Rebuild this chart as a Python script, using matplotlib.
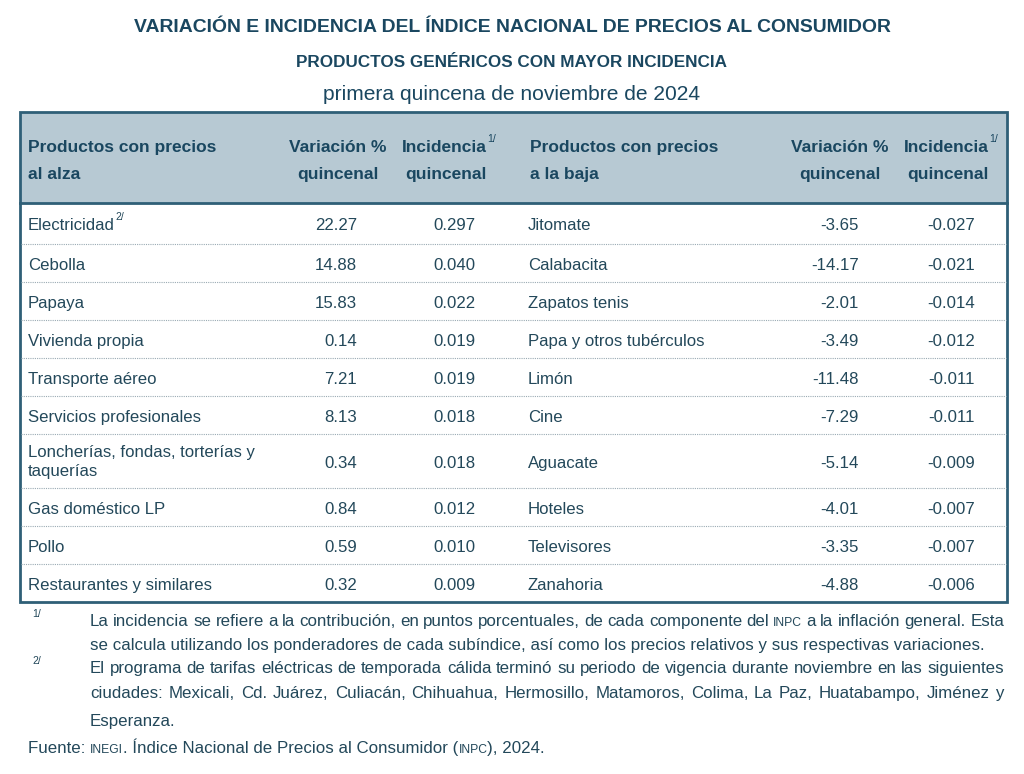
import matplotlib
matplotlib.use("Agg")
import matplotlib.pyplot as plt
from matplotlib.patches import Rectangle

# data
products_up = ["Electricidad", "Cebolla", "Papaya", "Vivienda propia", "Transporte aéreo",
               "Servicios profesionales", "Loncherías, fondas, torterías y\ntaquerías",
               "Gas doméstico LP", "Pollo", "Restaurantes y similares"]
var_up = [22.27, 14.88, 15.83, 0.14, 7.21, 8.13, 0.34, 0.84, 0.59, 0.32]
inc_up = [0.297, 0.040, 0.022, 0.019, 0.019, 0.018, 0.018, 0.012, 0.010, 0.009]

products_down = ["Jitomate", "Calabacita", "Zapatos tenis", "Papa y otros tubérculos", "Limón",
                 "Cine", "Aguacate", "Hoteles", "Televisores", "Zanahoria"]
var_down = [-3.65, -14.17, -2.01, -3.49, -11.48, -7.29, -5.14, -4.01, -3.35, -4.88]
inc_down = [-0.027, -0.021, -0.014, -0.012, -0.011, -0.011, -0.009, -0.007, -0.007, -0.006]

title = "VARIACIÓN E INCIDENCIA DEL ÍNDICE NACIONAL DE PRECIOS AL CONSUMIDOR"
subtitle = "PRODUCTOS GENÉRICOS CON MAYOR INCIDENCIA"
period = "primera quincena de noviembre de 2024"

# (word, small caps?) pairs for the first footnote line
note1_a = [("La", 0), ("incidencia", 0), ("se", 0), ("refiere", 0), ("a", 0), ("la", 0), ("contribución,", 0),
           ("en", 0), ("puntos", 0), ("porcentuales,", 0), ("de", 0), ("cada", 0), ("componente", 0), ("del", 0),
           ("INPC", 1), ("a", 0), ("la", 0), ("inflación", 0), ("general.", 0), ("Esta", 0)]
note1_b = "se calcula utilizando los ponderadores de cada subíndice, así como los precios relativos y sus respectivas variaciones."
note2 = ["El programa de tarifas eléctricas de temporada cálida terminó su periodo de vigencia durante noviembre en las siguientes",
         "ciudades: Mexicali, Cd. Juárez, Culiacán, Chihuahua, Hermosillo, Matamoros, Colima, La Paz, Huatabampo, Jiménez y",
         "Esperanza."]
source = [("Fuente: ", 0), ("INEGI", 1), (". Índice Nacional de Precios al Consumidor (", 0), ("INPC", 1), ("), 2024.", 0)]

plt.rcParams['font.family'] = ["Liberation Sans", "DejaVu Sans"]
dark = "#1a4760"
txt = "#23485a"
border = "#2f5f77"
head_bg = "#b7c9d3"

fig = plt.figure(figsize=(10.24, 7.74), dpi=100)
ax = fig.add_axes([0, 0, 1, 1])
ax.set_xlim(0, 1024)
ax.set_ylim(774, 0)
ax.axis("off")
fig.canvas.draw()
rend = fig.canvas.get_renderer()


def width_px(t):
    return t.get_window_extent(renderer=rend).width


def fit(s, target, weight="normal"):
    # font size that makes s about target pixels wide
    t = ax.text(0, 0, s, fontsize=10, fontweight=weight)
    w = width_px(t)
    t.remove()
    return 10 * target / w


def after(t, s, size, dy=-7, color=txt):
    # small superscript right after a text item
    bb = t.get_window_extent(renderer=rend)
    x1 = ax.transData.inverted().transform((bb.x1, bb.y1))[0]
    y = t.get_position()[1]
    ax.text(x1 + 1, y + dy, s, fontsize=size, color=color, va="center", ha="left")


# titles
ax.text(512, 25, title, fontsize=fit(title, 755, "bold"), fontweight="bold", color=dark,
        ha="center", va="center_baseline")
ax.text(512, 61, subtitle, fontsize=fit(subtitle, 430, "bold"), fontweight="bold", color=dark,
        ha="center", va="center_baseline")
ax.text(512, 93, period, fontsize=fit(period, 380), color=dark, ha="center", va="center_baseline")

# table frame
top, head_bot, bot = 112, 203, 602
left, right = 20, 1007
ax.add_patch(Rectangle((left, top), right - left, head_bot - top, facecolor=head_bg, edgecolor="none"))
ax.add_patch(Rectangle((left, top), right - left, bot - top, facecolor="none", edgecolor=border, lw=2))
ax.plot([left, right], [head_bot, head_bot], color=border, lw=2)

hs = fit("Variación %", 97, "bold")
h1, h2 = 146, 173
kw = dict(fontsize=hs, fontweight="bold", color=dark, va="center_baseline")
ax.text(28, h1, "Productos con precios", **kw)
ax.text(28, h2, "al alza", **kw)
ax.text(530, h1, "Productos con precios", **kw)
ax.text(530, h2, "a la baja", **kw)
for cx_v, cx_i in [(338, 444), (840, 946)]:
    ax.text(cx_v, h1, "Variación %", ha="center", **kw)
    ax.text(cx_v, h2, "quincenal", ha="center", **kw)
    t = ax.text(cx_i, h1, "Incidencia", ha="center", **kw)
    after(t, "1/", 7.5, dy=-7, color=dark)
    ax.text(cx_i + 2, h2, "quincenal", ha="center", **kw)

# body rows
heights = [41, 38, 38, 38, 38, 38, 54, 38, 38, 38]
bs = fit("Servicios profesionales", 173)
bkw = dict(fontsize=bs, color=txt, va="center_baseline")
y0 = head_bot
for i in range(len(products_up)):
    yc = y0 + heights[i] / 2 + 1
    if "\n" in products_up[i]:
        t = ax.text(28, yc, products_up[i], fontsize=bs, color=txt, va="center", linespacing=1.3)
    else:
        t = ax.text(28, yc, products_up[i], **bkw)
    if i == 0:
        after(t, "2/", 7.5, dy=-7)
    ax.text(357, yc, f"{var_up[i]:.2f}", ha="right", **bkw)
    ax.text(475, yc, f"{inc_up[i]:.3f}", ha="right", **bkw)
    ax.text(528, yc, products_down[i], **bkw)
    ax.text(859, yc, f"{var_down[i]:.2f}", ha="right", **bkw)
    ax.text(975, yc, f"{inc_down[i]:.3f}", ha="right", **bkw)
    y0 += heights[i]
    if i < len(products_up) - 1:
        ax.plot([left + 1, right - 1], [y0, y0], color="#9aaab3", lw=0.8, ls=(0, (1, 1)))

# footnotes, placed by baseline so small caps line up
fs = fit(note1_b, 888)
nx0, nx1 = 90, 1004


def justify(words, y):
    items = []
    for w, small in words:
        t = ax.text(0, y, w, fontsize=fs * 0.72 if small else fs, color=txt, va="baseline")
        items.append((t, width_px(t)))
    gap = (nx1 - nx0 - sum(w for _, w in items)) / (len(items) - 1)
    x = nx0
    for t, w in items:
        t.set_x(x)
        x += w + gap


ax.text(32, 617, "1/", fontsize=7.5, color=txt, va="baseline")
justify(note1_a, 626)
ax.text(nx0, 650, note1_b, fontsize=fs, color=txt, va="baseline")
ax.text(32, 664, "2/", fontsize=7.5, color=txt, va="baseline")
justify([(w, 0) for w in note2[0].split(" ")], 673)
justify([(w, 0) for w in note2[1].split(" ")], 698)
ax.text(nx0, 726, note2[2], fontsize=fs, color=txt, va="baseline")

# source line, acronyms in small caps
x = 28
for s, small in source:
    t = ax.text(x, 753, s, fontsize=fs * 0.72 if small else fs, color=txt, va="baseline")
    x += width_px(t)

fig.savefig("out.png", dpi=100)
